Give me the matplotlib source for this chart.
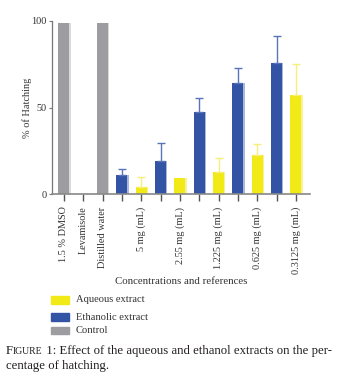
import matplotlib
matplotlib.use("Agg")
import matplotlib.pyplot as plt
from matplotlib.patches import Rectangle

plt.rcParams['font.family'] = ['Liberation Serif', 'DejaVu Serif']

# Bars in plotting order (one slot each)
groups = ["Control", "Control", "Control",
          "Ethanolic", "Aqueous", "Ethanolic", "Aqueous", "Ethanolic", "Aqueous",
          "Ethanolic", "Aqueous", "Ethanolic", "Aqueous"]
hatching = [99, 0, 99, 11, 4, 19, 9.2, 47.4, 12.7, 64.2, 22.5, 75.7, 57.2]
err_upper = [0, 0, 0, 3.3, 5.6, 10.7, 0, 7.9, 7.9, 8.8, 6.2, 15.4, 18.1]

tick_labels = ["1.5 % DMSO", "Levamisole", "Distilled water", "", "5 mg (mL)", "",
               "2.55 mg (mL)", "", "1.225 mg (mL)", "", "0.625 mg (mL)", "",
               "0.3125 mg (mL)"]

colors = {"Aqueous": "#f2ea16", "Ethanolic": "#3353a5", "Control": "#9d9ca1"}
shade = {"Aqueous": "#f7f29a", "Ethanolic": "#aab6da", "Control": "#d8d8da"}
err_col = {"Aqueous": "#f6ef7a", "Ethanolic": "#5b74b8", "Control": "#9d9ca1"}

W, H = 338, 380
fig = plt.figure(figsize=(W / 100, H / 100), dpi=100)
ax = fig.add_axes([52 / W, 1 - 194 / H, (310 - 52) / W, (194 - 21) / H])

x = list(range(len(hatching)))
bw = 0.57
for xi, h, e, g in zip(x, hatching, err_upper, groups):
    ax.bar(xi + 0.06, h, width=bw, color=shade[g], zorder=1)
    ax.bar(xi, h, width=bw, color=colors[g], zorder=2)
    if e > 0:
        ax.errorbar(xi, h, yerr=[[0], [e]], fmt="none", ecolor=err_col[g],
                    elinewidth=1.0, capsize=2.7, capthick=1.0, zorder=3)

ax.set_xlim(-0.62, 12.73)
ax.set_ylim(0, 100)
ax.set_yticks([0, 50, 100])
ax.set_xticks(x)
ax.set_xticklabels(tick_labels, rotation=90, fontsize=7.4, color="#333333")
ax.tick_params(axis="x", length=5, width=1.0, color="#555555", pad=4)
ax.tick_params(axis="y", length=2, width=0.8, color="#777777", labelsize=7.4,
               labelcolor="#333333", pad=2)
for i, t in enumerate(ax.xaxis.get_major_ticks()):
    if i in (1, 4, 6, 10, 12):
        t.tick1line.set_color("#bbbbbb")

for s in ("top", "right"):
    ax.spines[s].set_visible(False)
ax.spines["left"].set_color("#777777")
ax.spines["bottom"].set_color("#888888")
ax.spines["left"].set_linewidth(0.9)
ax.spines["bottom"].set_linewidth(1.2)
ax.set_ylabel("% of Hatching", fontsize=7.4, color="#333333", labelpad=-1)

fig.text(181 / W, 1 - 282 / H, "Concentrations and references", ha="center",
         va="center", fontsize=7.8, color="#333333")

# Legend
legend_items = [("Aqueous extract", "Aqueous", 296, 8),
                ("Ethanolic extract", "Ethanolic", 313, 8),
                ("Control", "Control", 327, 7)]
for label, g, ytop, hh in legend_items:
    fig.patches.append(Rectangle((51 / W, 1 - (ytop + hh) / H), 18 / W, hh / H,
                                 transform=fig.transFigure, color=colors[g]))
    fig.text(76 / W, 1 - (ytop + hh / 2) / H, label, ha="left", va="center",
             fontsize=7.6, color="#333333")

# Caption with small-caps "Figure"
cap_fs = 9.2
fig.canvas.draw()
r = fig.canvas.get_renderer()
y1 = 1 - 354 / H
t1 = fig.text(6 / W, y1, "F", fontsize=cap_fs, color="#231f20", va="baseline")
bb = t1.get_window_extent(r)
t2 = fig.text(bb.x1 / W, y1, "IGURE", fontsize=cap_fs * 0.76, color="#231f20",
              va="baseline")
bb = t2.get_window_extent(r)
fig.text(bb.x1 / W, y1, " 1: Effect of the aqueous and ethanol extracts on the per-",
         fontsize=cap_fs, color="#231f20", va="baseline")
fig.text(6 / W, 1 - 369 / H, "centage of hatching.", fontsize=cap_fs,
         color="#231f20", va="baseline")

fig.savefig("out.png", dpi=100)
